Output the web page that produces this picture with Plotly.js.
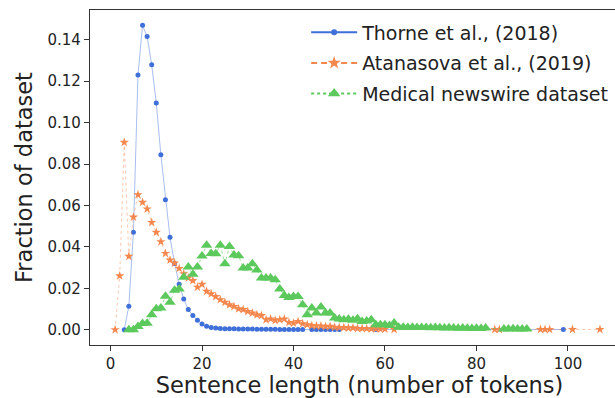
<!DOCTYPE html>
<html><head><meta charset="utf-8">
<script src="https://cdn.plot.ly/plotly-3.0.1.min.js"></script>
<style>html,body{margin:0;padding:0;overflow:hidden;background:#fff;}</style>
</head><body>
<div id="chart" style="width:634px;height:398px;"></div>
<script>
const thorneX = [3,4,5,6,7,8,9,10,11,12,13,14,15,16,17,18,19,20,21,22,23,24,25,26,27,28,29,30,31,32,33,34,35,36,37,38,39,40,41,42,44,45,46,47,48,49,50,58,99];
const thorneY = [0.0,0.0113,0.047,0.123,0.147,0.1416,0.128,0.1095,0.0845,0.0628,0.0446,0.032,0.022,0.0148,0.0097,0.0068,0.0045,0.0027,0.0016,0.0011,0.0008,0.0006,0.0005,0.0004,0.0004,0.0003,0.0003,0.0003,0.0003,0.0002,0.0002,0.0002,0.0002,0.0002,0.0001,0.0001,0.0001,0.0001,0.0001,0.0001,0.0001,0.0001,0.0001,0.0001,0.0001,0.0001,0.0001,0.0001,0.0001];

const atanasovaX = [1,2,3,4,5,6,7,8,9,10,11,12,13,14,15,16,17,18,19,20,21,22,23,24,25,26,27,28,29,30,31,32,33,34,35,36,37,38,39,40,41,42,43,44,45,46,47,48,49,50,51,52,53,54,55,56,57,58,59,60,62,84,85,94,95,96,101,107];
const atanasovaY = [0.0,0.026,0.0905,0.0354,0.0544,0.0652,0.0615,0.0583,0.0518,0.047,0.0425,0.0368,0.0336,0.0322,0.0296,0.027,0.025,0.0237,0.0205,0.0219,0.0185,0.0173,0.016,0.0145,0.0132,0.012,0.0112,0.0101,0.0097,0.0088,0.008,0.0072,0.0068,0.0048,0.0052,0.0045,0.0048,0.0052,0.0035,0.0032,0.004,0.0029,0.0024,0.002,0.0018,0.0018,0.0015,0.0016,0.0012,0.0011,0.001,0.0008,0.0009,0.0006,0.0006,0.0005,0.0004,0.0004,0.0003,0.0003,0.0002,0.0001,0.0001,0.0001,0.0001,0.0001,0.0001,0.0001];

const newswireX = [4,5,6,7,8,9,10,11,12,13,14,15,16,17,18,19,20,21,22,23,24,25,26,27,28,29,30,31,32,33,34,35,36,37,38,39,40,41,42,43,44,45,46,47,48,49,50,51,52,53,54,55,56,57,58,59,60,61,62,63,64,65,66,67,68,69,70,71,72,73,74,75,76,77,78,79,80,81,82,86,87,88,89,90,91];
const newswireY = [0.0,0.0,0.0015,0.003,0.0031,0.0072,0.0101,0.0105,0.0162,0.0132,0.019,0.0196,0.0253,0.0303,0.0268,0.0303,0.0356,0.0408,0.0368,0.0367,0.0408,0.0318,0.0402,0.0361,0.0357,0.0298,0.0298,0.0319,0.0288,0.025,0.025,0.025,0.0241,0.0196,0.0165,0.0155,0.016,0.016,0.012,0.0072,0.0105,0.008,0.011,0.008,0.008,0.0056,0.0052,0.0048,0.005,0.0045,0.0053,0.004,0.0042,0.0048,0.0024,0.0024,0.0024,0.002,0.0032,0.0012,0.0012,0.0011,0.0012,0.001,0.001,0.0011,0.0009,0.001,0.0009,0.0008,0.0009,0.0008,0.0007,0.0008,0.0007,0.0006,0.0007,0.0006,0.0008,0.0003,0.0003,0.0004,0.0003,0.0003,0.0003];

const seriesNames = ['Thorne et al., (2018)', 'Atanasova et al., (2019)', 'Medical newswire dataset'];
const xTicks = [0,20,40,60,80,100];
const yTicks = [0,0.02,0.04,0.06,0.08,0.10,0.12,0.14];

const blue = '#3f6fd9', orange = '#f4874d', green = '#5cc95c';

const traces = [
  {x: thorneX, y: thorneY, name: seriesNames[0], mode: 'lines+markers', showlegend: false,
   line: {color: 'rgba(63,111,217,0.45)', width: 1}, marker: {color: blue, size: 5, symbol: 'circle'}},
  {x: atanasovaX, y: atanasovaY, name: seriesNames[1], mode: 'lines+markers', showlegend: false,
   line: {color: 'rgba(244,135,77,0.45)', width: 1, dash: 'dot'}, marker: {color: orange, size: 7, symbol: 'star'}},
  {x: newswireX, y: newswireY, name: seriesNames[2], mode: 'lines+markers', showlegend: false,
   line: {color: 'rgba(92,201,92,0.6)', width: 1, dash: 'dot'}, marker: {color: green, size: 10, symbol: 'triangle-up'}},
  // legend-only entries (full-strength line samples)
  {x: [null], y: [null], name: seriesNames[0], mode: 'lines+markers', legendgroup: 'a',
   line: {color: blue, width: 2}, marker: {color: blue, size: 6, symbol: 'circle'}},
  {x: [null], y: [null], name: seriesNames[1], mode: 'lines+markers', legendgroup: 'b',
   line: {color: orange, width: 2, dash: '6px,4px'}, marker: {color: orange, size: 10, symbol: 'star'}},
  {x: [null], y: [null], name: seriesNames[2], mode: 'lines+markers', legendgroup: 'c',
   line: {color: green, width: 2, dash: 'dot'}, marker: {color: green, size: 11, symbol: 'triangle-up'}}
];

const fontFam = 'DejaVu Sans, sans-serif';
const layout = {
  width: 634, height: 398,
  margin: {l: 90, r: 5, t: 10, b: 53},
  paper_bgcolor: '#fff', plot_bgcolor: '#fff',
  font: {family: fontFam, color: '#222'},
  showlegend: true,
  legend: {x: 0.401, y: 0.99, xanchor: 'left', yanchor: 'top', bgcolor: 'rgba(0,0,0,0)',
           font: {size: 19, family: fontFam, color: '#222'}, tracegroupgap: 3, itemwidth: 46},
  xaxis: {range: [-4.49, 113.35], tickvals: xTicks, ticktext: xTicks.map(String),
          showgrid: false, zeroline: false, showline: true, mirror: true, linecolor: '#333', linewidth: 1.2,
          ticks: 'outside', ticklen: 5, tickwidth: 1, tickcolor: '#333',
          tickfont: {size: 15, family: fontFam, color: '#222'},
          title: {text: 'Sentence length (number of tokens)', font: {size: 22.5, family: fontFam, color: '#222'}, standoff: 4},
          automargin: false},
  yaxis: {range: [-0.0074, 0.1544], tickvals: yTicks, ticktext: yTicks.map(v => v.toFixed(2)),
          showgrid: false, zeroline: false, showline: true, mirror: true, linecolor: '#333', linewidth: 1.2,
          ticks: 'outside', ticklen: 5, tickwidth: 1, tickcolor: '#333',
          tickfont: {size: 15, family: fontFam, color: '#222'},
          title: {text: 'Fraction of dataset', font: {size: 22.5, family: fontFam, color: '#222'}, standoff: 8},
          automargin: false}
};

Plotly.newPlot('chart', traces, layout, {displayModeBar: false, staticPlot: true});
</script>
</body></html>
